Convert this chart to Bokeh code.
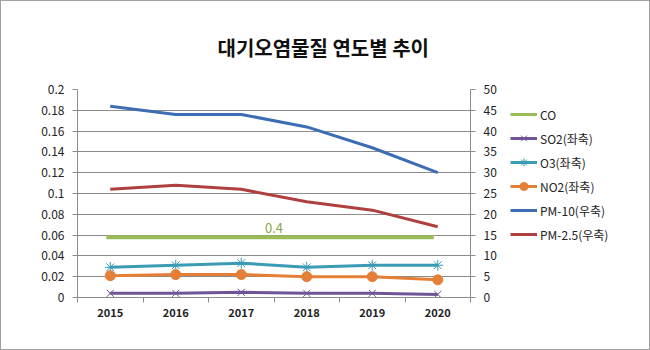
from bokeh.plotting import figure
from bokeh.layouts import row
from bokeh.models import (Range1d, LinearAxis, FixedTicker, Legend, LegendItem,
                          Label)
from bokeh.embed import file_html
from bokeh.resources import INLINE

years = [2015, 2016, 2017, 2018, 2019, 2020]
year_labels = ["2015", "2016", "2017", "2018", "2019", "2020"]
co_values = [0.4, 0.4, 0.4, 0.4, 0.4, 0.4]
co_level = [0.058, 0.058, 0.058, 0.058, 0.058, 0.058]
so2 = [0.004, 0.004, 0.005, 0.004, 0.004, 0.003]
o3 = [0.029, 0.031, 0.033, 0.029, 0.031, 0.031]
no2 = [0.021, 0.022, 0.022, 0.020, 0.020, 0.017]
pm10 = [46, 44, 44, 41, 36, 30]
pm25 = [26, 27, 26, 23, 21, 17]
series_names = ["CO", "SO2(좌축)", "O3(좌축)", "NO2(좌축)", "PM-10(우축)", "PM-2.5(우축)"]

FONT = "Noto Sans CJK KR"
GRID = "#8c8c8c"

C_CO = "#9bbb59"
C_SO2 = "#6f5597"
C_O3 = "#3a9bb5"
C_NO2 = "#e57f37"
C_PM10 = "#3d6db4"
C_PM25 = "#b04040"

p = figure(width=500, height=348, output_backend="svg", toolbar_location=None,
           x_range=Range1d(2014.5, 2020.5), y_range=Range1d(0, 0.2),
           min_border_left=76, min_border_right=31, min_border_top=88,
           min_border_bottom=52)
p.extra_y_ranges = {"right": Range1d(0, 50)}
p.outline_line_color = None
p.background_fill_color = "white"
p.border_fill_color = "white"

p.title.text = "대기오염물질 연도별 추이"
p.title.align = "left"
p.title.offset = 140
p.title.text_font = FONT
p.title.text_font_style = "bold"
p.title.text_font_size = "20px"
p.title.text_color = "#111111"
p.title.standoff = 56

p.xgrid.grid_line_color = None
p.ygrid.grid_line_color = GRID
p.ygrid.ticker = FixedTicker(ticks=[0.02 * i for i in range(11)])

# x axis
xa = p.xaxis[0]
xa.ticker = FixedTicker(ticks=years, minor_ticks=[y + 0.5 for y in [2014] + years])
xa.major_label_overrides = {y: l for y, l in zip(years, year_labels)}
xa.major_tick_out = 0
xa.major_tick_in = 0
xa.minor_tick_out = 5
xa.minor_tick_in = 0
xa.minor_tick_line_color = GRID
xa.axis_line_color = GRID
xa.major_label_text_font = FONT
xa.major_label_text_font_style = "bold"
xa.major_label_text_font_size = "11px"
xa.major_label_text_color = "#222222"
xa.major_label_standoff = 5

# left axis
ya = p.yaxis[0]
ya.ticker = FixedTicker(ticks=[0.02 * i for i in range(11)])
ya.major_label_overrides = {0.02 * i: ("0" if i == 0 else ("%g" % (0.02 * i))) for i in range(11)}
ya.axis_line_color = GRID
ya.major_tick_line_color = GRID
ya.major_tick_out = 5
ya.major_tick_in = 0
ya.minor_tick_line_color = None
ya.major_label_text_font = FONT
ya.major_label_text_font_size = "12px"
ya.major_label_text_color = "#222222"
ya.major_label_standoff = 8

# right axis
ra = LinearAxis(y_range_name="right", ticker=FixedTicker(ticks=list(range(0, 55, 5))))
ra.axis_line_color = GRID
ra.major_tick_line_color = GRID
ra.major_tick_out = 5
ra.major_tick_in = 0
ra.minor_tick_line_color = None
ra.major_label_text_font = FONT
ra.major_label_text_font_size = "12px"
ra.major_label_text_color = "#222222"
ra.major_label_standoff = 8
p.add_layout(ra, "right")

# CO flat band
co_x = [years[0] - 0.06, years[-1] - 0.06]
p.line(co_x, [co_level[0], co_level[-1]], line_color=C_CO, line_width=4)
p.add_layout(Label(x=(years[0] + years[-1]) / 2, y=co_level[0], text="%g" % co_values[0],
                   text_color="#8aa64a", text_font=FONT, text_font_size="13px",
                   text_align="center", y_offset=4))

p.line(years, pm10, y_range_name="right", line_color=C_PM10, line_width=3)
p.line(years, pm25, y_range_name="right", line_color=C_PM25, line_width=3)

p.line(years, o3, line_color=C_O3, line_width=3)
p.scatter(years, o3, marker="asterisk", size=11, line_color=C_O3, line_width=1)
p.line(years, no2, line_color=C_NO2, line_width=3)
p.scatter(years, no2, marker="circle", size=10, fill_color=C_NO2, line_color=C_NO2)
p.line(years, so2, line_color=C_SO2, line_width=3)
p.scatter(years, so2, marker="x", size=10, line_color=C_SO2, line_width=1)

# legend panel
q = figure(width=148, height=348, output_backend="svg", toolbar_location=None,
           x_axis_type=None, y_axis_type=None, min_border=0,
           x_range=Range1d(0, 1), y_range=Range1d(0, 1))
q.outline_line_color = None
q.xgrid.grid_line_color = None
q.ygrid.grid_line_color = None
q.border_fill_color = "white"

styles = [
    (C_CO, None),
    (C_SO2, "x"),
    (C_O3, "asterisk"),
    (C_NO2, "circle"),
    (C_PM10, None),
    (C_PM25, None),
]
items = []
for name, (col, mk) in zip(series_names, styles):
    rs = [q.line([-5, -4], [-5, -4], line_color=col, line_width=3)]
    if mk is not None:
        rs.append(q.scatter([-5], [-5], marker=mk, size=10 if mk != "circle" else 9,
                            line_color=col, fill_color=col, line_width=1))
    items.append(LegendItem(label=name, renderers=rs))

legend = Legend(items=items, location=(9, 53))
legend.border_line_color = None
legend.background_fill_alpha = 0
legend.glyph_width = 27
legend.glyph_height = 20
legend.spacing = 4
legend.label_standoff = 3
legend.label_text_font = FONT
legend.label_text_font_size = "12px"
legend.label_text_color = "#222222"
legend.padding = 0
legend.margin = 0
q.add_layout(legend, "center")

layout = row(p, q, spacing=0)
layout.styles = {"border": "1px solid #a0a0a0"}

open("out.html", "w").write(file_html(layout, INLINE))
